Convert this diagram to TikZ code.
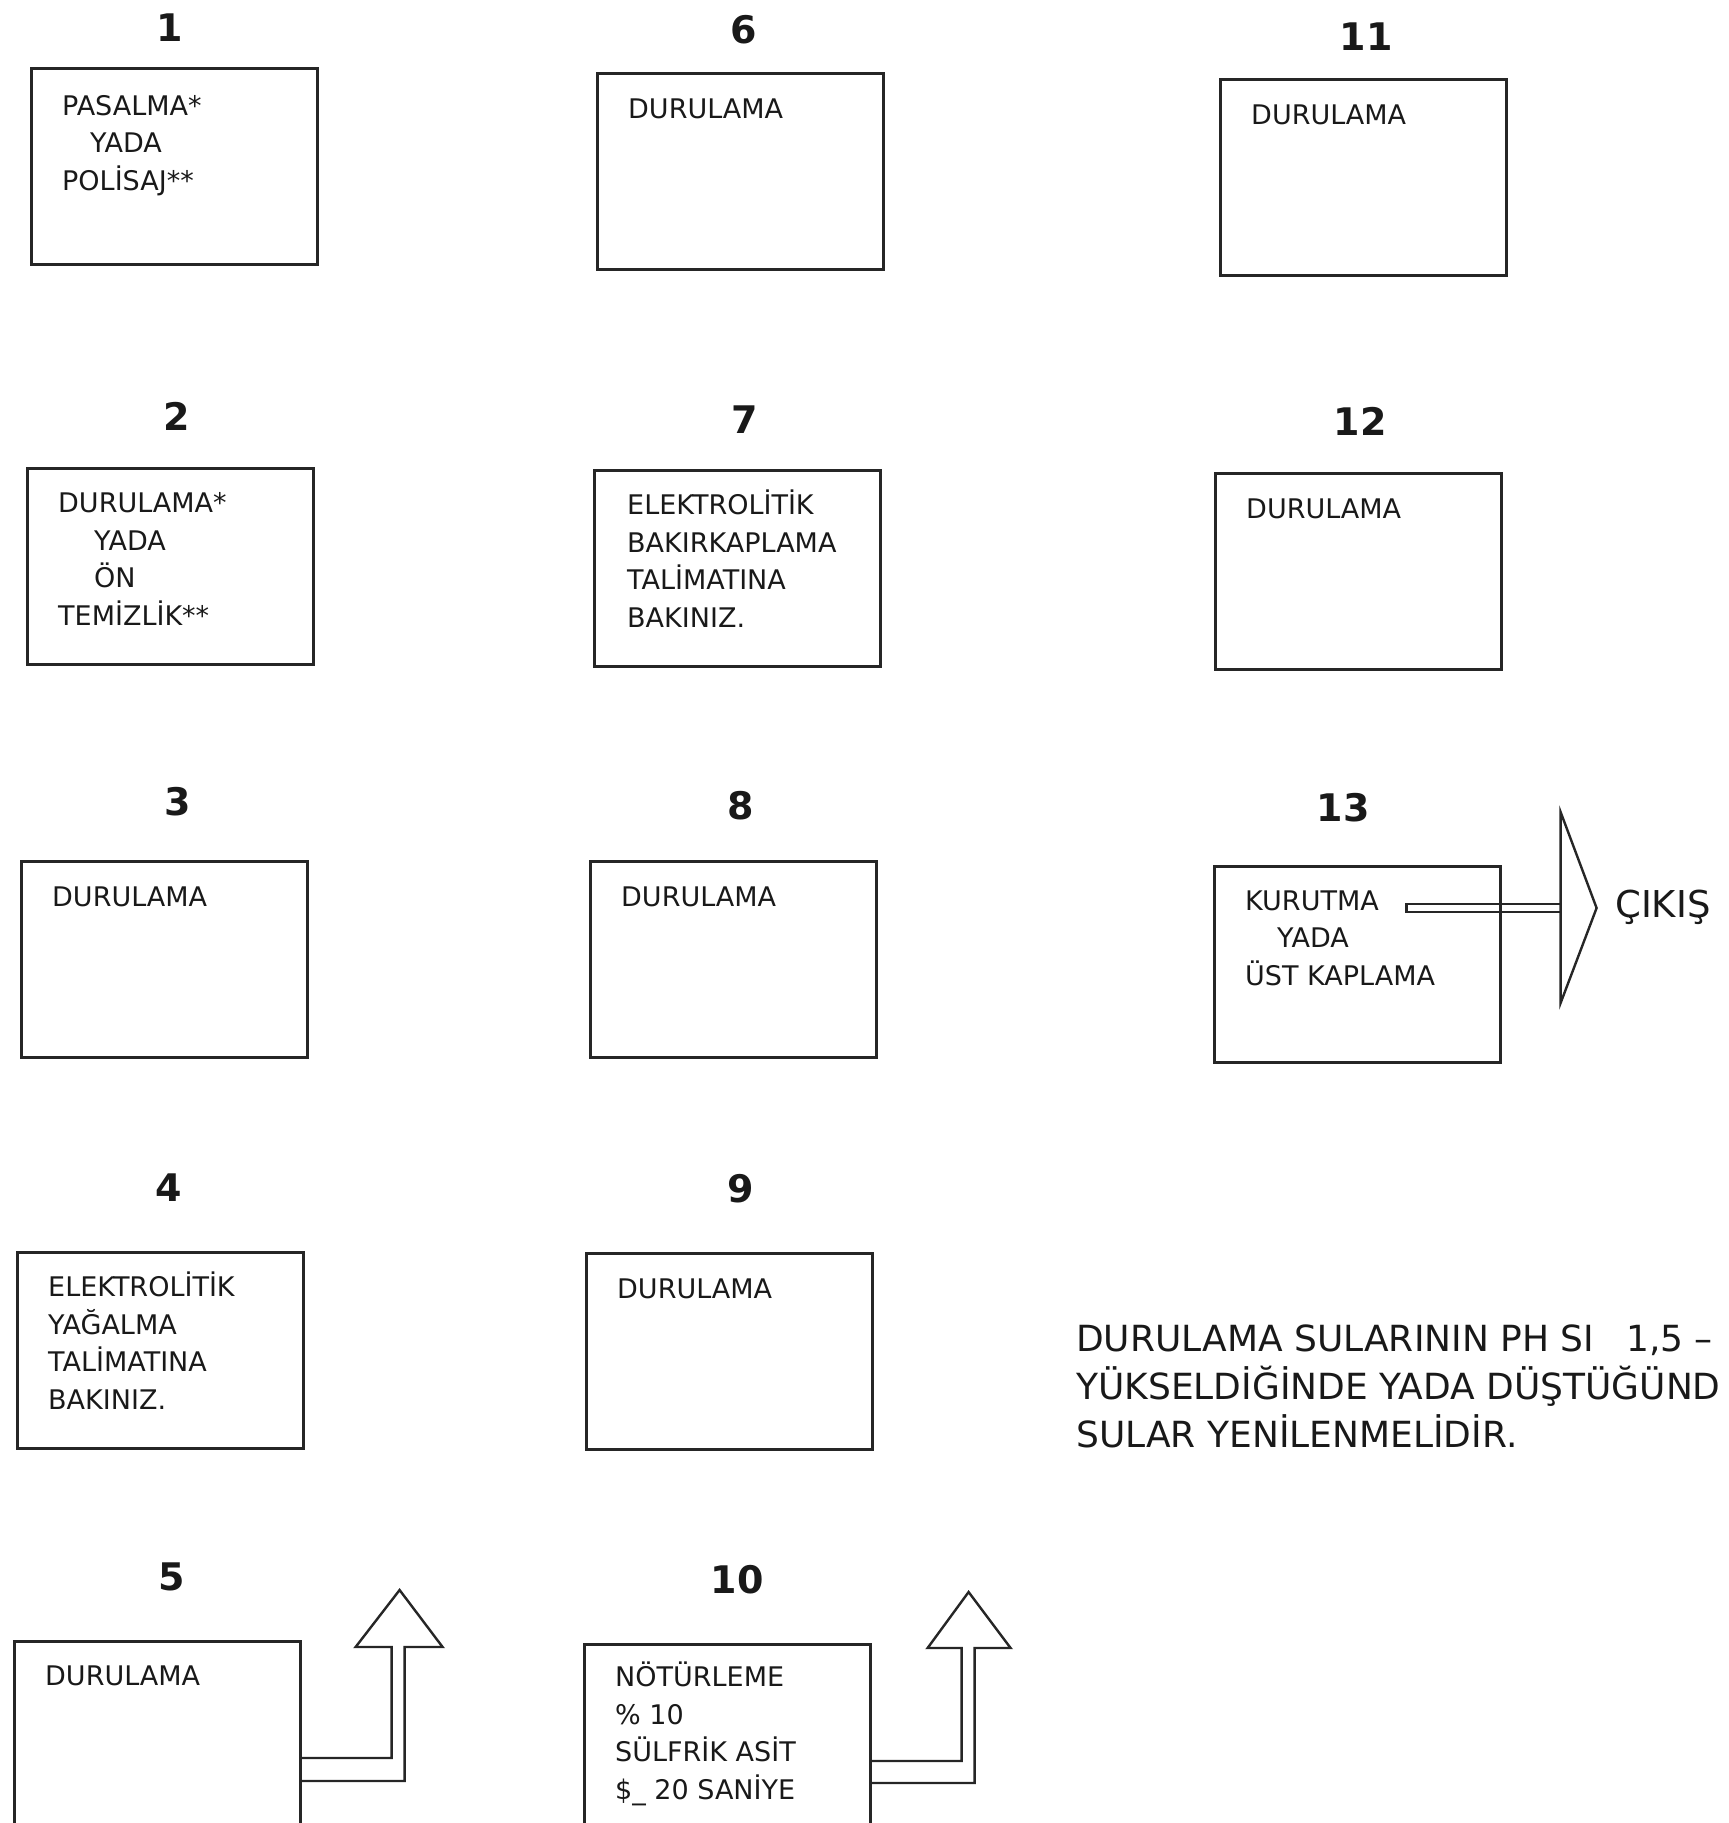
\documentclass[tikz,border=0pt]{standalone}
\usepackage{fontspec}
\setmainfont{DejaVu Sans}
\usetikzlibrary{calc}

\begin{document}
\begin{tikzpicture}[x=1pt, y=-1pt,
                tank/.style={draw=black!85, line width=2.6pt, anchor=north west,
                    minimum width=286pt, minimum height=196pt, inner sep=0pt},
                tanktext/.style={anchor=base west, align=left, inner sep=0pt,
                    text=black!90, font=\fontsize{27}{37.5}\selectfont},
                tanknum/.style={inner sep=0pt, text=black!90,
                    font=\bfseries\fontsize{38}{38}\selectfont},
                notetext/.style={anchor=base west, align=left, inner sep=0pt,
                    text=black!90, font=\fontsize{36}{48}\selectfont},
                hollow/.style={draw=black!85, line width=2.4pt, line join=miter}]
                \useasboundingbox (0,0) rectangle (1729,1823);
                % first column
                \node[tank] (b1) at (30,67) {};
                \node[tank] (b2) at (26,467) {};
                \node[tank] (b3) at (20,860) {};
                \node[tank] (b4) at (16,1251) {};
                \node[tank] (b5) at (13,1640) {};
                \node[tanknum] (n1) at (170,28) {1};
                \node[tanknum] (n2) at (177,416) {2};
                \node[tanknum] (n3) at (178,802) {3};
                \node[tanknum] (n4) at (169,1188) {4};
                \node[tanknum] (n5) at (172,1577) {5};
                % base anchor sits on the last line
                \node[tanktext] (t1) at ($(b1.north west)+(32,123)$) {PASALMA*\\\hspace*{28pt}YADA\\POLİSAJ**};
                \node[tanktext] (t2) at ($(b2.north west)+(32,158)$) {DURULAMA*\\\hspace*{36pt}YADA\\\hspace*{36pt}ÖN\\TEMİZLİK**};
                \node[tanktext] (t3) at ($(b3.north west)+(32,46)$) {DURULAMA};
                \node[tanktext] (t4) at ($(b4.north west)+(32,158)$) {ELEKTROLİTİK\\YAĞALMA\\TALİMATINA\\BAKINIZ.};
                \node[tanktext] (t5) at ($(b5.north west)+(32,45)$) {DURULAMA};
                % second column
                \node[tank] (b6) at (596,72) {};
                \node[tank] (b7) at (593,469) {};
                \node[tank] (b8) at (589,860) {};
                \node[tank] (b9) at (585,1252) {};
                \node[tank] (b10) at (583,1643) {};
                \node[tanknum] (n6) at (744,30) {6};
                \node[tanknum] (n7) at (745,420) {7};
                \node[tanknum] (n8) at (741,806) {8};
                \node[tanknum] (n9) at (741,1189) {9};
                \node[tanknum] (n10) at (737,1580) {10};
                \node[tanktext] (t6) at ($(b6.north west)+(32,46)$) {DURULAMA};
                \node[tanktext] (t7) at ($(b7.north west)+(34,158)$) {ELEKTROLİTİK\\BAKIRKAPLAMA\\TALİMATINA\\BAKINIZ.};
                \node[tanktext] (t8) at ($(b8.north west)+(32,46)$) {DURULAMA};
                \node[tanktext] (t9) at ($(b9.north west)+(32,46)$) {DURULAMA};
                \node[tanktext] (t10) at ($(b10.north west)+(32,156)$) {NÖTÜRLEME\\\% 10\\SÜLFRİK ASİT\\\$\_ 20 SANİYE};
                % third column
                \node[tank] (b11) at (1219,78) {};
                \node[tank] (b12) at (1214,472) {};
                \node[tank] (b13) at (1213,865) {};
                \node[tanknum] (n11) at (1366,37) {11};
                \node[tanknum] (n12) at (1360,421) {12};
                \node[tanknum] (n13) at (1343,808) {13};
                \node[tanktext] (t11) at ($(b11.north west)+(32,46)$) {DURULAMA};
                \node[tanktext] (t12) at ($(b12.north west)+(32,46)$) {DURULAMA};
                \node[tanktext] (t13) at ($(b13.north west)+(32,120)$) {KURUTMA\\\hspace*{32pt}YADA\\ÜST KAPLAMA};
                % hollow arrows
                \draw[hollow] (b5.north east) ++(0,118) -- ++(90,0) -- ++(0,-111) -- ++(-36,0)
                    -- ++(44,-57) -- ++(43,57) -- ++(-38,0) -- ++(0,134) -- ++(-103,0);
                \draw[hollow] (b10.north east) ++(0,118) -- ++(90,0) -- ++(0,-113) -- ++(-34,0)
                    -- ++(41,-56) -- ++(42,56) -- ++(-36,0) -- ++(0,135) -- ++(-103,0);
                \draw[hollow] ($(b13.north east)+(59,39)$) -- ++(-154,0) -- ++(0,8) -- ++(154,0);
                \draw[hollow] ($(b13.north east)+(59,-53)$) -- ++(36,96) -- ++(-36,95) -- cycle;
                \node[anchor=base west, inner sep=0pt, text=black!90,
                    font=\fontsize{37}{37}\selectfont] (exit) at (1615,917) {ÇIKIŞ};
                % note
                \node[notetext] (note) at (1076,1447) {DURULAMA SULARININ PH SI\hspace{32pt}1,5 –\\YÜKSELDİĞİNDE YADA DÜŞTÜĞÜND\\SULAR YENİLENMELİDİR.};
            \end{tikzpicture}
\end{document}
